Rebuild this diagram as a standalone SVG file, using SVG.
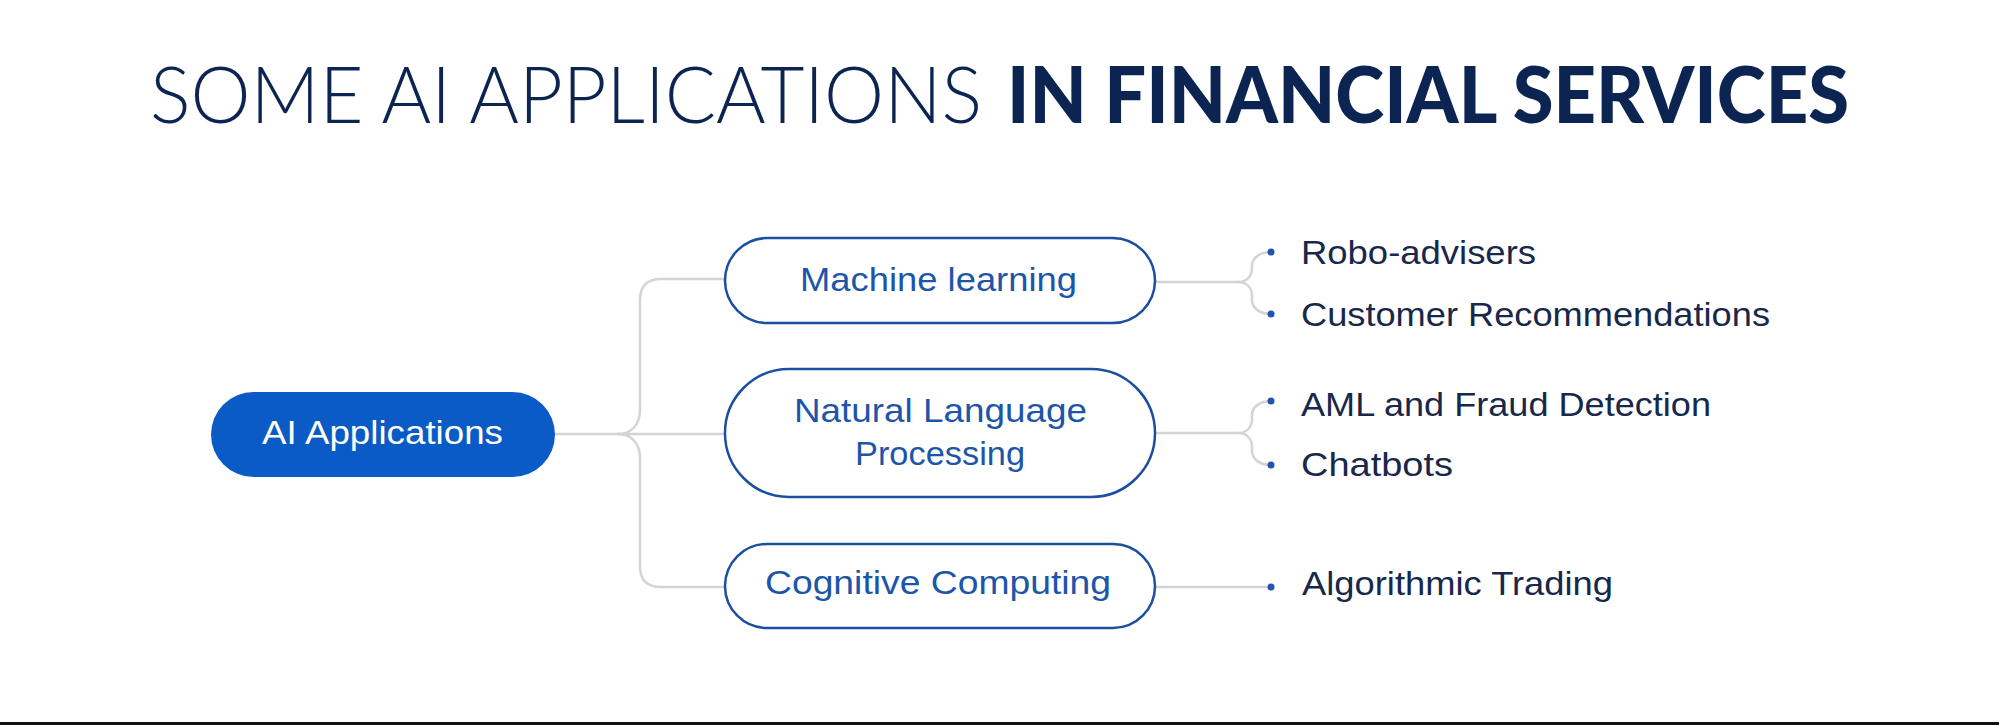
<svg xmlns="http://www.w3.org/2000/svg" width="1999" height="725" viewBox="0 0 1999 725">
<style>
.title{font-family:Lato,"Liberation Sans",sans-serif;font-size:78px;fill:#0c2452}
.lt{font-weight:300}
.bd{font-weight:900}
.box{fill:#ffffff;stroke:#1b50a0;stroke-width:2.5}
.boxt{font-family:"Liberation Sans",Arial,sans-serif;font-size:34px;fill:#1d56a8;text-anchor:start}
.leaf{font-family:"Liberation Sans",Arial,sans-serif;font-size:34px;fill:#18284a}
.conn{fill:none;stroke:#d4d4d4;stroke-width:2.5}
.dot{fill:#1f55b0}
</style>
<rect x="0" y="0" width="1999" height="725" fill="#ffffff"/>
<g id="title">
<text class="title lt" x="150" y="123" textLength="832" lengthAdjust="spacingAndGlyphs">SOME AI APPLICATIONS</text>
<text class="title bd" x="1007" y="123" textLength="842" lengthAdjust="spacingAndGlyphs">IN FINANCIAL SERVICES</text>
</g>
<g id="connectors">
<path class="conn" d="M555,434 H618 C632,434 640,424 640,410 V300 Q640,279 661,279 H725"/>
<path class="conn" d="M618,434 C632,434 640,444 640,458 V566 Q640,587 661,587 H725"/>
<path class="conn" d="M618,434 H725"/>
<path class="conn" d="M1155,282 H1238 C1247,282 1252,276 1252,268 V266 C1252,257 1261,252 1271,252"/>
<path class="conn" d="M1238,282 C1247,282 1252,288 1252,296 V300 C1252,309 1261,314 1271,314"/>
<path class="conn" d="M1155,433 H1238 C1247,433 1252,427 1252,419 V415 C1252,406 1261,401 1271,401"/>
<path class="conn" d="M1238,433 C1247,433 1252,439 1252,447 V451 C1252,460 1261,465 1271,465"/>
<path class="conn" d="M1155,587 H1271"/>
<circle class="dot" cx="1271" cy="252" r="3.5"/>
<circle class="dot" cx="1271" cy="314" r="3.5"/>
<circle class="dot" cx="1271" cy="401" r="3.5"/>
<circle class="dot" cx="1271" cy="465" r="3.5"/>
<circle class="dot" cx="1271" cy="587" r="3.5"/>
</g>
<g id="node-ai">
<rect x="211" y="392" width="344" height="85" rx="42.5" fill="#0b5bc6"/>
<text x="262" y="444" font-family="Liberation Sans,Arial,sans-serif" font-size="34" fill="#ffffff" textLength="241" lengthAdjust="spacingAndGlyphs">AI Applications</text>
</g>
<g id="node-ml">
<rect class="box" x="725" y="238" width="430" height="85" rx="42.5"/>
<text class="boxt" x="800" y="291" textLength="277" lengthAdjust="spacingAndGlyphs">Machine learning</text>
</g>
<g id="node-nlp">
<rect class="box" x="725" y="369" width="430" height="128" rx="64"/>
<text class="boxt" x="794" y="422" textLength="293" lengthAdjust="spacingAndGlyphs">Natural Language</text>
<text class="boxt" x="855" y="465" textLength="170" lengthAdjust="spacingAndGlyphs">Processing</text>
</g>
<g id="node-cc">
<rect class="box" x="725" y="544" width="430" height="84" rx="42"/>
<text class="boxt" x="765" y="594" textLength="346" lengthAdjust="spacingAndGlyphs">Cognitive Computing</text>
</g>
<g id="leaf-robo"><text class="leaf" x="1301" y="264" textLength="235" lengthAdjust="spacingAndGlyphs">Robo-advisers</text></g>
<g id="leaf-cust"><text class="leaf" x="1301" y="326" textLength="469" lengthAdjust="spacingAndGlyphs">Customer Recommendations</text></g>
<g id="leaf-aml"><text class="leaf" x="1301" y="416" textLength="410" lengthAdjust="spacingAndGlyphs">AML and Fraud Detection</text></g>
<g id="leaf-chat"><text class="leaf" x="1301" y="476" textLength="152" lengthAdjust="spacingAndGlyphs">Chatbots</text></g>
<g id="leaf-algo"><text class="leaf" x="1302" y="595" textLength="311" lengthAdjust="spacingAndGlyphs">Algorithmic Trading</text></g>
<rect x="0" y="722" width="1999" height="3" fill="#111111"/>
</svg>
